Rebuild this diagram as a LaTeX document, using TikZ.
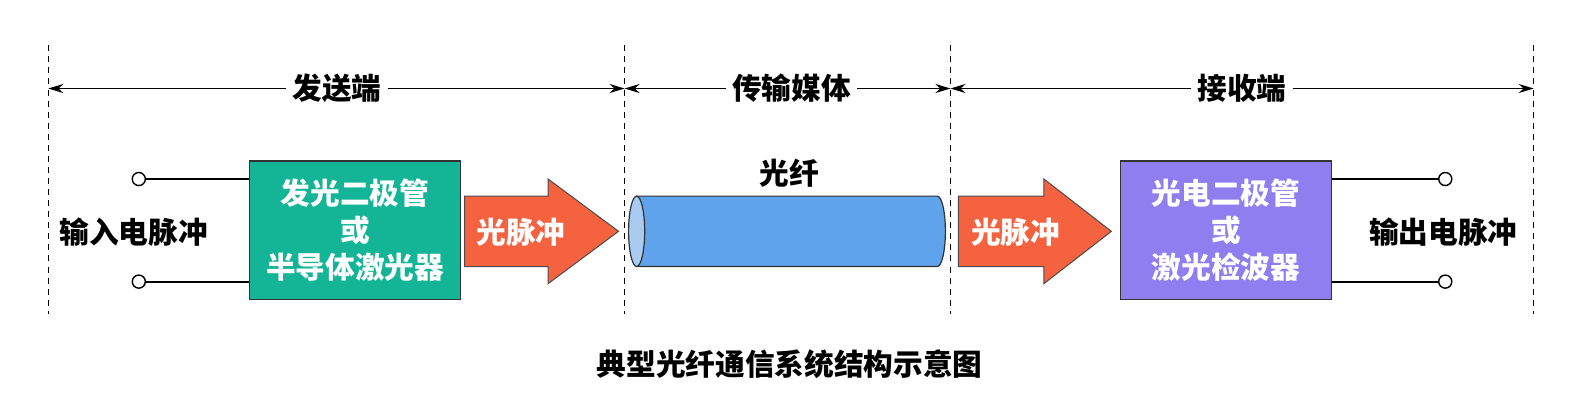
\documentclass[tikz,border=0pt]{standalone}
\usepackage{fontspec}
\newfontfamily\cjk{Noto Sans CJK SC}
\usetikzlibrary{positioning,shapes.geometric,arrows.meta}

\definecolor{sendgreen}{HTML}{14B497}
\definecolor{pulseorange}{HTML}{F4623F}
\definecolor{fiberblue}{HTML}{5EA3EC}
\definecolor{fiberend}{HTML}{A9CBF2}
\definecolor{recvpurple}{HTML}{8E7EF0}

\tikzset{
    txt/.style={font=\cjk\bfseries\fontsize{29.5}{37}\selectfont, inner sep=0pt},
    head/.style={txt, inner xsep=6pt},
    dim/.style={line width=1.5pt, -{Stealth[length=15pt,width=9pt]}},
    box/.style={draw=black!80, line width=1.3pt, minimum width=210pt, minimum height=138pt,
        txt, text=white, align=center},
    term/.style={draw, circle, fill=white, line width=1.4pt, minimum size=13pt, inner sep=0pt},
    wire/.style={line width=2.2pt},
    pulse/.style={fill=pulseorange, draw=black!70, line width=1pt},
}

\begin{document}
\begin{tikzpicture}[x=1pt, y=-1pt]
    \useasboundingbox (0,0) rectangle (1568,405);

    % dashed borders
    \foreach \x [count=\i] in {48,621,945,1525}{
        \coordinate (t\i) at (\x,45);
        \coordinate (b\i) at (\x,312);
        \draw[line width=1.2pt, dash pattern=on 6pt off 5pt] (t\i) -- (b\i);
    }

    % section labels
    \node[head] (send) at (335,88) {发送端};
    \node[head] (medium) at (787,88) {传输媒体};
    \node[head] (recv) at (1235,88) {接收端};

    \foreach \n/\l/\r in {send/1/2, medium/2/3, recv/3/4}{
        \draw[dim] (\n) -- (t\l |- \n);
        \draw[dim] (\n) -- (t\r |- \n);
    }

    % sender
    \node[box, fill=sendgreen] (tx) at (353,229) {发光二极管\\或\\半导体激光器};
    \node[term] (in1) at (138,178) {};
    \node[term] (in2) at (138,280) {};
    \draw[wire] (in1) -- (tx.west |- in1);
    \draw[wire] (in2) -- (tx.west |- in2);
    \node[txt] (inlabel) at (133,231) {输入电脉冲};

    \draw[pulse] (462,195) -- (545,195) -- (545,178) -- (615,230) -- (545,282)
        -- (545,265) -- (462,265) -- cycle;
    \node[txt, text=white] (pulse1) at (518,231) {光脉冲};

    % fiber
    \node[minimum width=315pt, minimum height=70pt, inner sep=0pt] (fiber) at (783,230) {};
    \draw[fill=fiberblue, draw=black!80, line width=1.2pt] (633,195) -- (932,195)
        arc[start angle=90, end angle=-90, x radius=8pt, y radius=35pt] -- (633,265) -- cycle;
    \draw[fill=fiberend, draw=black!80, line width=1.2pt] (633,230)
        ellipse[x radius=8pt, y radius=35pt];
    \node[txt] (fiberlabel) at (785,172) {光纤};

    % receiver
    \draw[pulse] (953,195) -- (1038,195) -- (1038,178) -- (1105,230) -- (1038,282)
        -- (1038,265) -- (953,265) -- cycle;
    \node[txt, text=white] (pulse2) at (1010,231) {光脉冲};

    \node[box, fill=recvpurple] (rx) at (1219,229) {光电二极管\\或\\激光检波器};
    \node[term] (out1) at (1437,178) {};
    \node[term] (out2) at (1437,280) {};
    \draw[wire] (rx.east |- out1) -- (out1);
    \draw[wire] (rx.east |- out2) -- (out2);
    \node[txt] (outlabel) at (1435,231) {输出电脉冲};

    % caption
    \node[txt] (caption) at (785,362) {典型光纤通信系统结构示意图};
\end{tikzpicture}
\end{document}
